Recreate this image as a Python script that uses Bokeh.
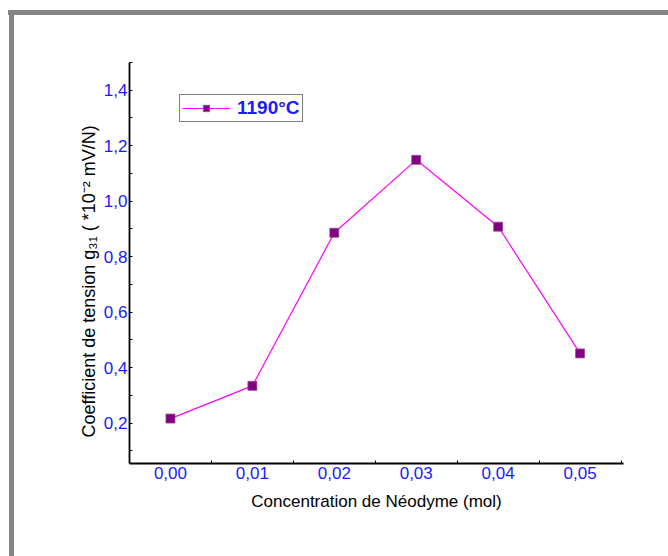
from bokeh.plotting import figure
from bokeh.models import FixedTicker, Range1d, Legend, Title
from bokeh.embed import file_html
from bokeh.resources import INLINE

# ---- data ----
concentration = [0.00, 0.01, 0.02, 0.03, 0.04, 0.05]
g31 = [0.216, 0.334, 0.886, 1.149, 0.908, 0.451]
series_label = "1190°C"

x_ticks = [0.00, 0.01, 0.02, 0.03, 0.04, 0.05]
x_tick_labels = ["0,00", "0,01", "0,02", "0,03", "0,04", "0,05"]
x_minor = [0.005, 0.015, 0.025, 0.035, 0.045, 0.055]
y_ticks = [0.2, 0.4, 0.6, 0.8, 1.0, 1.2, 1.4]
y_tick_labels = ["0,2", "0,4", "0,6", "0,8", "1,0", "1,2", "1,4"]
y_minor = [0.1, 0.3, 0.5, 0.7, 0.9, 1.1, 1.3, 1.5]
x_title = "Concentration de Néodyme (mol)"
y_title = "Coefficient de tension g\u2083\u2081  ( *10\u207b\u00b2 mV/N)"

FONT = "Liberation Sans"
BLUE = "#1a1aff"
GRAY = "#858585"

p = figure(width=668, height=556, output_backend="svg", toolbar_location=None,
           x_range=Range1d(-0.005, 0.0553), y_range=Range1d(0.054, 1.5),
           min_border_left=129, min_border_right=45, min_border_top=62,
           min_border_bottom=93)
p.outline_line_color = None
p.grid.grid_line_color = None
p.background_fill_color = "white"
p.border_fill_alpha = 0
# gray frame strips (top and left) painted behind the transparent canvas border
p.styles = {
    "background-color": "white",
    "background-image": f"linear-gradient({GRAY},{GRAY}), linear-gradient({GRAY},{GRAY})",
    "background-size": "100% 5px, 5px 100%",
    "background-position": "8px 10px, 9px 10px",
    "background-repeat": "no-repeat",
}

r_line = p.line(concentration, g31, line_color="#ff00ff", line_width=1.2)
r_pts = p.scatter(concentration, g31, marker="square", size=9,
                  fill_color="#800080", line_color="#9a4a9a", line_width=0.8)

# axes
xa = p.xaxis[0]
xa.ticker = FixedTicker(ticks=x_ticks, minor_ticks=x_minor)
xa.major_label_overrides = {t: l for t, l in zip(x_ticks, x_tick_labels)}
ya = p.yaxis[0]
ya.ticker = FixedTicker(ticks=y_ticks, minor_ticks=y_minor)
ya.major_label_overrides = {t: l for t, l in zip(y_ticks, y_tick_labels)}

for ax in (xa, ya):
    ax.axis_line_color = "black"
    ax.axis_line_width = 1.8
    ax.major_label_text_color = BLUE
    ax.major_label_text_font = FONT
    ax.major_label_text_font_size = "17px"
    ax.axis_label_text_font = FONT
    ax.axis_label_text_font_style = "normal"
    ax.axis_label_text_color = "black"
    ax.major_tick_line_color = "black"
    ax.minor_tick_line_color = "black"
    ax.major_tick_out = 0
    ax.minor_tick_out = 0

xa.major_tick_in = 0
xa.minor_tick_in = 3
ya.major_tick_in = 3
ya.minor_tick_in = 3
xa.major_label_standoff = 3
ya.major_label_standoff = 2
xa.axis_label = x_title
xa.axis_label_text_font_size = "17px"
xa.axis_label_standoff = 10

# y-axis title as a side title so it can sit slightly below centre, as in the original
yt = Title(text=y_title, align="left", offset=26, vertical_align="bottom",
           standoff=4, text_font=FONT, text_font_size="18px",
           text_font_style="normal", text_color="black")
p.add_layout(yt, "left")

legend = Legend(items=[(series_label, [r_line, r_pts])], location=(50, 341))
legend.label_text_font = FONT
legend.label_text_font_style = "bold"
legend.label_text_font_size = "19px"
legend.label_text_color = BLUE
legend.border_line_color = "black"
legend.border_line_width = 1
legend.background_fill_alpha = 1
legend.padding = 2
legend.margin = 0
legend.glyph_width = 48
legend.glyph_height = 16
legend.label_height = 16
legend.label_standoff = 7
p.add_layout(legend, "center")

open("out.html", "w").write(file_html(p, INLINE))
